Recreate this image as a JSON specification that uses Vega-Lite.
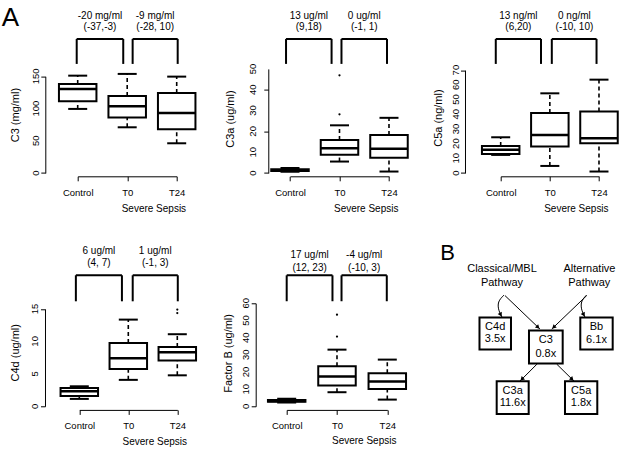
{
 "$schema": "https://vega.github.io/schema/vega-lite/v6.json",
 "background": "white",
 "padding": {"left": 1.7, "top": 4.6, "right": 0, "bottom": 0},
 "columns": 3,
 "align": "all",
 "bounds": "flush",
 "spacing": {"row": 130.7, "column": 0},
 "datasets": {
  "c3box": [
   {"pos": 1, "lower": 99.4, "q1": 111.2, "median": 130.4, "q3": 138.2, "upper": 151},
   {"pos": 2, "lower": 70.9, "q1": 86, "median": 103.5, "q3": 119.6, "upper": 153.7},
   {"pos": 3, "lower": 46.1, "q1": 67.8, "median": 93.2, "q3": 124.2, "upper": 149.5}
  ],
  "c3br": [{"x1": 0.98, "x2": 1.92, "lo": 169.2, "hi": 208}, {"x1": 2.11, "x2": 3.02, "lo": 169.2, "hi": 208}],
  "c3txt": [
   {"x": 1.45, "y": 244.1, "t": "-20 mg/ml"}, {"x": 1.45, "y": 226, "t": "(-37,-3)"},
   {"x": 2.565, "y": 244.1, "t": "-9 mg/ml"}, {"x": 2.565, "y": 226, "t": "(-28, 10)"}
  ],
  "c3ticks": [{"v": 0}, {"v": 50}, {"v": 100}, {"v": 150}],
  "alab": [{"x": -0.535, "y": 260.3, "t": "A"}],
  "c3abox": [
   {"pos": 1, "lower": 0.6, "q1": 0.9, "median": 1.3, "q3": 1.8, "upper": 2.4},
   {"pos": 2, "lower": 5.5, "q1": 8.8, "median": 11.9, "q3": 15.9, "upper": 22.9},
   {"pos": 3, "lower": 0.7, "q1": 7.3, "median": 11.6, "q3": 18.3, "upper": 26.5}
  ],
  "c3aout": [{"pos": 2, "v": 28.2}, {"pos": 2, "v": 46.9}],
  "c3abr": [{"x1": 0.92, "x2": 1.84, "lo": 52.4, "hi": 64.4}, {"x1": 2.04, "x2": 2.96, "lo": 52.4, "hi": 64.4}],
  "c3atxt": [
   {"x": 1.38, "y": 75.6, "t": "13 ug/ml"}, {"x": 1.38, "y": 70, "t": "(9,18)"},
   {"x": 2.5, "y": 75.6, "t": "0 ug/ml"}, {"x": 2.5, "y": 70, "t": "(-1, 1)"}
  ],
  "c3aticks": [{"v": 0}, {"v": 10}, {"v": 20}, {"v": 30}, {"v": 40}, {"v": 50}],
  "c5abox": [
   {"pos": 1, "lower": 12.3, "q1": 13, "median": 15.9, "q3": 18.4, "upper": 24.3},
   {"pos": 2, "lower": 4.8, "q1": 18, "median": 25.9, "q3": 40.9, "upper": 54.2},
   {"pos": 3, "lower": 1, "q1": 20.2, "median": 23.6, "q3": 41.8, "upper": 63.5}
  ],
  "c5abr": [{"x1": 0.9, "x2": 1.82, "lo": 74.2, "hi": 91.2}, {"x1": 2.04, "x2": 2.95, "lo": 74.2, "hi": 91.2}],
  "c5atxt": [
   {"x": 1.36, "y": 107.1, "t": "13 ng/ml"}, {"x": 1.36, "y": 99.6, "t": "(6,20)"},
   {"x": 2.5, "y": 107.1, "t": "0 ng/ml"}, {"x": 2.5, "y": 99.6, "t": "(-10, 10)"}
  ],
  "c5aticks": [{"v": 0}, {"v": 10}, {"v": 20}, {"v": 30}, {"v": 40}, {"v": 50}, {"v": 60}, {"v": 70}],
  "c4dbox": [
   {"pos": 1, "lower": 1.14, "q1": 1.6, "median": 2.31, "q3": 2.83, "upper": 3.08},
   {"pos": 2, "lower": 4.07, "q1": 5.76, "median": 7.39, "q3": 9.76, "upper": 13.35},
   {"pos": 3, "lower": 4.77, "q1": 7.04, "median": 8.32, "q3": 9.15, "upper": 11.1}
  ],
  "c4dout": [{"pos": 3, "v": 14.35}, {"pos": 3, "v": 14.9}],
  "c4dbr": [{"x1": 0.93, "x2": 1.87, "lo": 16.17, "hi": 20.18}, {"x1": 2.09, "x2": 3.01, "lo": 16.17, "hi": 20.18}],
  "c4dtxt": [
   {"x": 1.4, "y": 23.86, "t": "6 ug/ml"}, {"x": 1.4, "y": 22.01, "t": "(4, 7)"},
   {"x": 2.55, "y": 23.86, "t": "1 ug/ml"}, {"x": 2.55, "y": 22.01, "t": "(-1, 3)"}
  ],
  "c4dticks": [{"v": 0}, {"v": 5}, {"v": 10}, {"v": 15}],
  "fbbox": [
   {"pos": 1, "lower": 2.2, "q1": 2.7, "median": 3.1, "q3": 3.6, "upper": 4.4},
   {"pos": 2, "lower": 8.2, "q1": 12.1, "median": 17.3, "q3": 23.3, "upper": 33},
   {"pos": 3, "lower": 3.9, "q1": 10.1, "median": 14.4, "q3": 19.2, "upper": 27.2}
  ],
  "fbout": [{"pos": 2, "v": 40.6}, {"pos": 2, "v": 53.4}],
  "fbbr": [{"x1": 1, "x2": 1.91, "lo": 61.2, "hi": 76.3}, {"x1": 2.09, "x2": 2.99, "lo": 61.2, "hi": 76.3}],
  "fbtxt": [
   {"x": 1.455, "y": 87.96, "t": "17 ug/ml"}, {"x": 1.455, "y": 80.8, "t": "(12, 23)"},
   {"x": 2.54, "y": 87.96, "t": "-4 ug/ml"}, {"x": 2.54, "y": 80.8, "t": "(-10, 3)"}
  ],
  "fbticks": [{"v": 0}, {"v": 10}, {"v": 20}, {"v": 30}, {"v": 40}, {"v": 50}, {"v": 60}],
  "bboxes": [
   {"x1": 29.75, "x2": 45.5, "y1": 41, "y2": 57},
   {"x1": 54.5, "x2": 71.35, "y1": 47.5, "y2": 64},
   {"x1": 80.15, "x2": 96.35, "y1": 41, "y2": 57},
   {"x1": 38.35, "x2": 54.35, "y1": 72.85, "y2": 89.15},
   {"x1": 72.5, "x2": 88.65, "y1": 72.85, "y2": 89.15}
  ],
  "btxt": [
   {"x": 41, "y": 16.65, "t": "Classical/MBL"}, {"x": 41, "y": 23.85, "t": "Pathway"},
   {"x": 84.75, "y": 16.65, "t": "Alternative"}, {"x": 84.65, "y": 23.85, "t": "Pathway"},
   {"x": 37.6, "y": 45.85, "t": "C4d"}, {"x": 37.6, "y": 51.9, "t": "3.5x"},
   {"x": 62.9, "y": 52, "t": "C3"}, {"x": 62.9, "y": 59.15, "t": "0.8x"},
   {"x": 88.25, "y": 45.85, "t": "Bb"}, {"x": 88.25, "y": 52.3, "t": "6.1x"},
   {"x": 46.35, "y": 77.5, "t": "C3a"}, {"x": 46.35, "y": 83.85, "t": "11.6x"},
   {"x": 80.6, "y": 77.5, "t": "C5a"}, {"x": 80.6, "y": 83.85, "t": "1.8x"}
  ],
  "blab": [{"x": 13.75, "y": 8.5, "t": "B"}],
  "arrows": [
   {"kind": "s", "x1": 42.5, "y1": 30, "x2": 60, "y2": 46.75},
   {"kind": "s", "x1": 83.35, "y1": 30, "x2": 65.85, "y2": 46.75},
   {"kind": "s", "x1": 58.5, "y1": 64.25, "x2": 50, "y2": 72.75},
   {"kind": "s", "x1": 68.35, "y1": 64.25, "x2": 77, "y2": 72.75},
   {"kind": "c", "x1": 39.25, "y1": 37.5, "x2": 41, "y2": 40.75},
   {"kind": "c", "x1": 80.75, "y1": 37.5, "x2": 82.5, "y2": 40.75}
  ],
  "curves": [
   {"id": "l", "o": 0, "x": 42, "y": 29.75}, {"id": "l", "o": 1, "x": 38.75, "y": 33},
   {"id": "l", "o": 2, "x": 39.25, "y": 37.5}, {"id": "l", "o": 3, "x": 41, "y": 40.75},
   {"id": "r", "o": 0, "x": 83.25, "y": 29.75}, {"id": "r", "o": 1, "x": 80.25, "y": 33},
   {"id": "r", "o": 2, "x": 80.75, "y": 37.5}, {"id": "r", "o": 3, "x": 82.5, "y": 40.75}
  ]
 },
 "concat": [
  {
   "width": 212, "height": 104,
   "layer": [
    {"data": {"name": "c3box"}, "mark": {"type": "rule", "color": "black", "strokeWidth": 1.6, "strokeDash": [4, 3]},
     "encoding": {
      "x": {"field": "pos", "type": "quantitative", "scale": {"domain": [1, 3], "range": [0, 99], "nice": false, "zero": false, "padding": 0},
            "axis": {"values": [1, 2, 3], "labelExpr": "datum.value == 1 ? 'Control' : datum.value == 2 ? 'T0' : 'T24'", "offset": 3.7, "labelPadding": 6.8, "title": "Severe Sepsis", "titleX": 75.7, "titleY": 35}},
      "y": {"field": "lower", "type": "quantitative", "scale": {"domain": [0, 150], "range": [104.4, 7.7], "nice": false, "zero": false, "padding": 0},
            "axis": {"values": [0, 50, 100, 150], "offset": 32.4, "labels": false, "title": "C3 (mg/ml)", "titleX": -30.2, "titleY": 46}},
      "y2": {"field": "q1"}}},
    {"data": {"name": "c3box"}, "mark": {"type": "rule", "color": "black", "strokeWidth": 1.6, "strokeDash": [4, 3]},
     "encoding": {"x": {"field": "pos", "type": "quantitative"}, "y": {"field": "q3", "type": "quantitative"}, "y2": {"field": "upper"}}},
    {"data": {"name": "c3box"}, "mark": {"type": "tick", "orient": "horizontal", "size": 19, "thickness": 2, "color": "black", "opacity": 1},
     "encoding": {"x": {"field": "pos", "type": "quantitative"}, "y": {"field": "lower", "type": "quantitative"}}},
    {"data": {"name": "c3box"}, "mark": {"type": "tick", "orient": "horizontal", "size": 19, "thickness": 2, "color": "black", "opacity": 1},
     "encoding": {"x": {"field": "pos", "type": "quantitative"}, "y": {"field": "upper", "type": "quantitative"}}},
    {"data": {"name": "c3box"}, "mark": {"type": "bar", "orient": "vertical", "size": 37.5, "width": 37.5, "fill": "white", "stroke": "black", "strokeWidth": 2, "opacity": 1},
     "encoding": {"x": {"field": "pos", "type": "quantitative"}, "y": {"field": "q1", "type": "quantitative"}, "y2": {"field": "q3"}}},
    {"data": {"name": "c3box"}, "mark": {"type": "tick", "orient": "horizontal", "size": 37.5, "thickness": 2.5, "color": "black", "opacity": 1},
     "encoding": {"x": {"field": "pos", "type": "quantitative"}, "y": {"field": "median", "type": "quantitative"}}},
    {"data": {"name": "c3br"}, "mark": {"type": "rule", "color": "black", "strokeWidth": 2},
     "encoding": {"x": {"field": "x1", "type": "quantitative"}, "x2": {"field": "x2"}, "y": {"field": "hi", "type": "quantitative"}}},
    {"data": {"name": "c3br"}, "mark": {"type": "rule", "color": "black", "strokeWidth": 2},
     "encoding": {"x": {"field": "x1", "type": "quantitative"}, "y": {"field": "lo", "type": "quantitative"}, "y2": {"field": "hi"}}},
    {"data": {"name": "c3br"}, "mark": {"type": "rule", "color": "black", "strokeWidth": 2},
     "encoding": {"x": {"field": "x2", "type": "quantitative"}, "y": {"field": "lo", "type": "quantitative"}, "y2": {"field": "hi"}}},
    {"data": {"name": "c3txt"}, "mark": {"type": "text", "fontSize": 10, "color": "black"},
     "encoding": {"x": {"field": "x", "type": "quantitative"}, "y": {"field": "y", "type": "quantitative"}, "text": {"field": "t"}}},
    {"data": {"name": "c3ticks"}, "mark": {"type": "text", "fontSize": 9.5, "angle": 270, "align": "center", "baseline": "middle", "color": "black"},
     "encoding": {"x": {"datum": 0.1535, "type": "quantitative"}, "y": {"field": "v", "type": "quantitative"}, "text": {"field": "v", "type": "quantitative"}}},
    {"data": {"name": "alab"}, "mark": {"type": "text", "fontSize": 26, "align": "left", "baseline": "top", "color": "black"},
     "encoding": {"x": {"field": "x", "type": "quantitative"}, "y": {"field": "y", "type": "quantitative"}, "text": {"field": "t"}}}
   ]
  },
  {
   "width": 212, "height": 104,
   "layer": [
    {"data": {"name": "c3abox"}, "mark": {"type": "rule", "color": "black", "strokeWidth": 1.6, "strokeDash": [4, 3]},
     "encoding": {
      "x": {"field": "pos", "type": "quantitative", "scale": {"domain": [1, 3], "range": [0.3, 99.3], "nice": false, "zero": false, "padding": 0},
            "axis": {"values": [1, 2, 3], "labelExpr": "datum.value == 1 ? 'Control' : datum.value == 2 ? 'T0' : 'T24'", "offset": 3.7, "labelPadding": 6.8, "title": "Severe Sepsis", "titleX": 76, "titleY": 35}},
      "y": {"field": "lower", "type": "quantitative", "scale": {"domain": [0, 50], "range": [104.4, 0.3], "nice": false, "zero": false, "padding": 0},
            "axis": {"values": [0, 10, 20, 30, 40, 50], "offset": 21.4, "labels": false, "title": "C3a (ug/ml)", "titleX": -37.5, "titleY": 50}},
      "y2": {"field": "q1"}}},
    {"data": {"name": "c3abox"}, "mark": {"type": "rule", "color": "black", "strokeWidth": 1.6, "strokeDash": [4, 3]},
     "encoding": {"x": {"field": "pos", "type": "quantitative"}, "y": {"field": "q3", "type": "quantitative"}, "y2": {"field": "upper"}}},
    {"data": {"name": "c3abox"}, "mark": {"type": "tick", "orient": "horizontal", "size": 19, "thickness": 2, "color": "black", "opacity": 1},
     "encoding": {"x": {"field": "pos", "type": "quantitative"}, "y": {"field": "lower", "type": "quantitative"}}},
    {"data": {"name": "c3abox"}, "mark": {"type": "tick", "orient": "horizontal", "size": 19, "thickness": 2, "color": "black", "opacity": 1},
     "encoding": {"x": {"field": "pos", "type": "quantitative"}, "y": {"field": "upper", "type": "quantitative"}}},
    {"data": {"name": "c3abox"}, "mark": {"type": "bar", "orient": "vertical", "size": 37.5, "width": 37.5, "fill": "white", "stroke": "black", "strokeWidth": 2, "opacity": 1},
     "encoding": {"x": {"field": "pos", "type": "quantitative"}, "y": {"field": "q1", "type": "quantitative"}, "y2": {"field": "q3"}}},
    {"data": {"name": "c3abox"}, "mark": {"type": "tick", "orient": "horizontal", "size": 37.5, "thickness": 2.5, "color": "black", "opacity": 1},
     "encoding": {"x": {"field": "pos", "type": "quantitative"}, "y": {"field": "median", "type": "quantitative"}}},
    {"data": {"name": "c3aout"}, "mark": {"type": "point", "filled": true, "size": 5, "color": "black", "opacity": 1},
     "encoding": {"x": {"field": "pos", "type": "quantitative"}, "y": {"field": "v", "type": "quantitative"}}},
    {"data": {"name": "c3abr"}, "mark": {"type": "rule", "color": "black", "strokeWidth": 2},
     "encoding": {"x": {"field": "x1", "type": "quantitative"}, "x2": {"field": "x2"}, "y": {"field": "hi", "type": "quantitative"}}},
    {"data": {"name": "c3abr"}, "mark": {"type": "rule", "color": "black", "strokeWidth": 2},
     "encoding": {"x": {"field": "x1", "type": "quantitative"}, "y": {"field": "lo", "type": "quantitative"}, "y2": {"field": "hi"}}},
    {"data": {"name": "c3abr"}, "mark": {"type": "rule", "color": "black", "strokeWidth": 2},
     "encoding": {"x": {"field": "x2", "type": "quantitative"}, "y": {"field": "lo", "type": "quantitative"}, "y2": {"field": "hi"}}},
    {"data": {"name": "c3atxt"}, "mark": {"type": "text", "fontSize": 10, "color": "black"},
     "encoding": {"x": {"field": "x", "type": "quantitative"}, "y": {"field": "y", "type": "quantitative"}, "text": {"field": "t"}}},
    {"data": {"name": "c3aticks"}, "mark": {"type": "text", "fontSize": 9.5, "angle": 270, "align": "center", "baseline": "middle", "color": "black"},
     "encoding": {"x": {"datum": 0.2626, "type": "quantitative"}, "y": {"field": "v", "type": "quantitative"}, "text": {"field": "v", "type": "quantitative"}}}
   ]
  },
  {
   "width": 212, "height": 104,
   "layer": [
    {"data": {"name": "c5abox"}, "mark": {"type": "rule", "color": "black", "strokeWidth": 1.6, "strokeDash": [4, 3]},
     "encoding": {
      "x": {"field": "pos", "type": "quantitative", "scale": {"domain": [1, 3], "range": [-1, 97.3], "nice": false, "zero": false, "padding": 0},
            "axis": {"values": [1, 2, 3], "labelExpr": "datum.value == 1 ? 'Control' : datum.value == 2 ? 'T0' : 'T24'", "offset": 3.7, "labelPadding": 6.8, "title": "Severe Sepsis", "titleX": 74.2, "titleY": 35}},
      "y": {"field": "lower", "type": "quantitative", "scale": {"domain": [0, 70], "range": [104.4, 1.5], "nice": false, "zero": false, "padding": 0},
            "axis": {"values": [0, 10, 20, 30, 40, 50, 60, 70], "offset": 36.7, "labels": false, "title": "C5a (ng/ml)", "titleX": -26.2, "titleY": 49}},
      "y2": {"field": "q1"}}},
    {"data": {"name": "c5abox"}, "mark": {"type": "rule", "color": "black", "strokeWidth": 1.6, "strokeDash": [4, 3]},
     "encoding": {"x": {"field": "pos", "type": "quantitative"}, "y": {"field": "q3", "type": "quantitative"}, "y2": {"field": "upper"}}},
    {"data": {"name": "c5abox"}, "mark": {"type": "tick", "orient": "horizontal", "size": 19, "thickness": 2, "color": "black", "opacity": 1},
     "encoding": {"x": {"field": "pos", "type": "quantitative"}, "y": {"field": "lower", "type": "quantitative"}}},
    {"data": {"name": "c5abox"}, "mark": {"type": "tick", "orient": "horizontal", "size": 19, "thickness": 2, "color": "black", "opacity": 1},
     "encoding": {"x": {"field": "pos", "type": "quantitative"}, "y": {"field": "upper", "type": "quantitative"}}},
    {"data": {"name": "c5abox"}, "mark": {"type": "bar", "orient": "vertical", "size": 37.5, "width": 37.5, "fill": "white", "stroke": "black", "strokeWidth": 2, "opacity": 1},
     "encoding": {"x": {"field": "pos", "type": "quantitative"}, "y": {"field": "q1", "type": "quantitative"}, "y2": {"field": "q3"}}},
    {"data": {"name": "c5abox"}, "mark": {"type": "tick", "orient": "horizontal", "size": 37.5, "thickness": 2.5, "color": "black", "opacity": 1},
     "encoding": {"x": {"field": "pos", "type": "quantitative"}, "y": {"field": "median", "type": "quantitative"}}},
    {"data": {"name": "c5abr"}, "mark": {"type": "rule", "color": "black", "strokeWidth": 2},
     "encoding": {"x": {"field": "x1", "type": "quantitative"}, "x2": {"field": "x2"}, "y": {"field": "hi", "type": "quantitative"}}},
    {"data": {"name": "c5abr"}, "mark": {"type": "rule", "color": "black", "strokeWidth": 2},
     "encoding": {"x": {"field": "x1", "type": "quantitative"}, "y": {"field": "lo", "type": "quantitative"}, "y2": {"field": "hi"}}},
    {"data": {"name": "c5abr"}, "mark": {"type": "rule", "color": "black", "strokeWidth": 2},
     "encoding": {"x": {"field": "x2", "type": "quantitative"}, "y": {"field": "lo", "type": "quantitative"}, "y2": {"field": "hi"}}},
    {"data": {"name": "c5atxt"}, "mark": {"type": "text", "fontSize": 10, "color": "black"},
     "encoding": {"x": {"field": "x", "type": "quantitative"}, "y": {"field": "y", "type": "quantitative"}, "text": {"field": "t"}}},
    {"data": {"name": "c5aticks"}, "mark": {"type": "text", "fontSize": 9.5, "angle": 270, "align": "center", "baseline": "middle", "color": "black"},
     "encoding": {"x": {"datum": 0.0844, "type": "quantitative"}, "y": {"field": "v", "type": "quantitative"}, "text": {"field": "v", "type": "quantitative"}}}
   ]
  },
  {
   "width": 212, "height": 104,
   "layer": [
    {"data": {"name": "c4dbox"}, "mark": {"type": "rule", "color": "black", "strokeWidth": 1.6, "strokeDash": [4, 3]},
     "encoding": {
      "x": {"field": "pos", "type": "quantitative", "scale": {"domain": [1, 3], "range": [1.6, 99.6], "nice": false, "zero": false, "padding": 0},
            "axis": {"values": [1, 2, 3], "labelExpr": "datum.value == 1 ? 'Control' : datum.value == 2 ? 'T0' : 'T24'", "offset": 2.6, "labelPadding": 5.8, "title": "Severe Sepsis", "titleX": 76.6, "titleY": 35}},
      "y": {"field": "lower", "type": "quantitative", "scale": {"domain": [0, 15], "range": [103, 5.6], "nice": false, "zero": false, "padding": 0},
            "axis": {"values": [0, 5, 10, 15], "offset": 32.7, "labels": false, "title": "C4d (ug/ml)", "titleX": -29.2, "titleY": 49}},
      "y2": {"field": "q1"}}},
    {"data": {"name": "c4dbox"}, "mark": {"type": "rule", "color": "black", "strokeWidth": 1.6, "strokeDash": [4, 3]},
     "encoding": {"x": {"field": "pos", "type": "quantitative"}, "y": {"field": "q3", "type": "quantitative"}, "y2": {"field": "upper"}}},
    {"data": {"name": "c4dbox"}, "mark": {"type": "tick", "orient": "horizontal", "size": 19, "thickness": 2, "color": "black", "opacity": 1},
     "encoding": {"x": {"field": "pos", "type": "quantitative"}, "y": {"field": "lower", "type": "quantitative"}}},
    {"data": {"name": "c4dbox"}, "mark": {"type": "tick", "orient": "horizontal", "size": 19, "thickness": 2, "color": "black", "opacity": 1},
     "encoding": {"x": {"field": "pos", "type": "quantitative"}, "y": {"field": "upper", "type": "quantitative"}}},
    {"data": {"name": "c4dbox"}, "mark": {"type": "bar", "orient": "vertical", "size": 37.5, "width": 37.5, "fill": "white", "stroke": "black", "strokeWidth": 2, "opacity": 1},
     "encoding": {"x": {"field": "pos", "type": "quantitative"}, "y": {"field": "q1", "type": "quantitative"}, "y2": {"field": "q3"}}},
    {"data": {"name": "c4dbox"}, "mark": {"type": "tick", "orient": "horizontal", "size": 37.5, "thickness": 2.5, "color": "black", "opacity": 1},
     "encoding": {"x": {"field": "pos", "type": "quantitative"}, "y": {"field": "median", "type": "quantitative"}}},
    {"data": {"name": "c4dout"}, "mark": {"type": "point", "filled": true, "size": 5, "color": "black", "opacity": 1},
     "encoding": {"x": {"field": "pos", "type": "quantitative"}, "y": {"field": "v", "type": "quantitative"}}},
    {"data": {"name": "c4dbr"}, "mark": {"type": "rule", "color": "black", "strokeWidth": 2},
     "encoding": {"x": {"field": "x1", "type": "quantitative"}, "x2": {"field": "x2"}, "y": {"field": "hi", "type": "quantitative"}}},
    {"data": {"name": "c4dbr"}, "mark": {"type": "rule", "color": "black", "strokeWidth": 2},
     "encoding": {"x": {"field": "x1", "type": "quantitative"}, "y": {"field": "lo", "type": "quantitative"}, "y2": {"field": "hi"}}},
    {"data": {"name": "c4dbr"}, "mark": {"type": "rule", "color": "black", "strokeWidth": 2},
     "encoding": {"x": {"field": "x2", "type": "quantitative"}, "y": {"field": "lo", "type": "quantitative"}, "y2": {"field": "hi"}}},
    {"data": {"name": "c4dtxt"}, "mark": {"type": "text", "fontSize": 10, "color": "black"},
     "encoding": {"x": {"field": "x", "type": "quantitative"}, "y": {"field": "y", "type": "quantitative"}, "text": {"field": "t"}}},
    {"data": {"name": "c4dticks"}, "mark": {"type": "text", "fontSize": 9.5, "angle": 270, "align": "center", "baseline": "middle", "color": "black"},
     "encoding": {"x": {"datum": 0.102, "type": "quantitative"}, "y": {"field": "v", "type": "quantitative"}, "text": {"field": "v", "type": "quantitative"}}}
   ]
  },
  {
   "width": 212, "height": 104,
   "layer": [
    {"data": {"name": "fbbox"}, "mark": {"type": "rule", "color": "black", "strokeWidth": 1.6, "strokeDash": [4, 3]},
     "encoding": {
      "x": {"field": "pos", "type": "quantitative", "scale": {"domain": [1, 3], "range": [-3, 97.6], "nice": false, "zero": false, "padding": 0},
            "axis": {"values": [1, 2, 3], "labelExpr": "datum.value == 1 ? 'Control' : datum.value == 2 ? 'T0' : 'T24'", "offset": 2.6, "labelPadding": 5.8, "title": "Severe Sepsis", "titleX": 74, "titleY": 34}},
      "y": {"field": "lower", "type": "quantitative", "scale": {"domain": [0, 60], "range": [103, 0], "nice": false, "zero": false, "padding": 0},
            "axis": {"values": [0, 10, 20, 30, 40, 50, 60], "offset": 34, "labels": false, "title": "Factor B (ug/ml)", "titleX": -26.9, "titleY": 49.6}},
      "y2": {"field": "q1"}}},
    {"data": {"name": "fbbox"}, "mark": {"type": "rule", "color": "black", "strokeWidth": 1.6, "strokeDash": [4, 3]},
     "encoding": {"x": {"field": "pos", "type": "quantitative"}, "y": {"field": "q3", "type": "quantitative"}, "y2": {"field": "upper"}}},
    {"data": {"name": "fbbox"}, "mark": {"type": "tick", "orient": "horizontal", "size": 19, "thickness": 2, "color": "black", "opacity": 1},
     "encoding": {"x": {"field": "pos", "type": "quantitative"}, "y": {"field": "lower", "type": "quantitative"}}},
    {"data": {"name": "fbbox"}, "mark": {"type": "tick", "orient": "horizontal", "size": 19, "thickness": 2, "color": "black", "opacity": 1},
     "encoding": {"x": {"field": "pos", "type": "quantitative"}, "y": {"field": "upper", "type": "quantitative"}}},
    {"data": {"name": "fbbox"}, "mark": {"type": "bar", "orient": "vertical", "size": 37.5, "width": 37.5, "fill": "white", "stroke": "black", "strokeWidth": 2, "opacity": 1},
     "encoding": {"x": {"field": "pos", "type": "quantitative"}, "y": {"field": "q1", "type": "quantitative"}, "y2": {"field": "q3"}}},
    {"data": {"name": "fbbox"}, "mark": {"type": "tick", "orient": "horizontal", "size": 37.5, "thickness": 2.5, "color": "black", "opacity": 1},
     "encoding": {"x": {"field": "pos", "type": "quantitative"}, "y": {"field": "median", "type": "quantitative"}}},
    {"data": {"name": "fbout"}, "mark": {"type": "point", "filled": true, "size": 5, "color": "black", "opacity": 1},
     "encoding": {"x": {"field": "pos", "type": "quantitative"}, "y": {"field": "v", "type": "quantitative"}}},
    {"data": {"name": "fbbr"}, "mark": {"type": "rule", "color": "black", "strokeWidth": 2},
     "encoding": {"x": {"field": "x1", "type": "quantitative"}, "x2": {"field": "x2"}, "y": {"field": "hi", "type": "quantitative"}}},
    {"data": {"name": "fbbr"}, "mark": {"type": "rule", "color": "black", "strokeWidth": 2},
     "encoding": {"x": {"field": "x1", "type": "quantitative"}, "y": {"field": "lo", "type": "quantitative"}, "y2": {"field": "hi"}}},
    {"data": {"name": "fbbr"}, "mark": {"type": "rule", "color": "black", "strokeWidth": 2},
     "encoding": {"x": {"field": "x2", "type": "quantitative"}, "y": {"field": "lo", "type": "quantitative"}, "y2": {"field": "hi"}}},
    {"data": {"name": "fbtxt"}, "mark": {"type": "text", "fontSize": 10, "color": "black"},
     "encoding": {"x": {"field": "x", "type": "quantitative"}, "y": {"field": "y", "type": "quantitative"}, "text": {"field": "t"}}},
    {"data": {"name": "fbticks"}, "mark": {"type": "text", "fontSize": 9.5, "angle": 270, "align": "center", "baseline": "middle", "color": "black"},
     "encoding": {"x": {"datum": 0.185, "type": "quantitative"}, "y": {"field": "v", "type": "quantitative"}, "text": {"field": "v", "type": "quantitative"}}}
   ]
  },
  {
   "width": 212, "height": 104,
   "layer": [
    {"data": {"name": "bboxes"}, "mark": {"type": "rect", "fill": "white", "stroke": "black", "strokeWidth": 2, "opacity": 1},
     "encoding": {
      "x": {"field": "x1", "type": "quantitative", "scale": {"domain": [0, 100], "range": [-81.7, 118.3], "nice": false, "zero": false, "padding": 0}, "axis": null},
      "x2": {"field": "x2"},
      "y": {"field": "y1", "type": "quantitative", "scale": {"domain": [0, 95], "range": [-67.7, 122.3], "nice": false, "zero": false, "padding": 0}, "axis": null},
      "y2": {"field": "y2"}}},
    {"data": {"name": "arrows"}, "transform": [{"filter": "datum.kind == 's'"}],
     "mark": {"type": "rule", "color": "black", "strokeWidth": 1},
     "encoding": {"x": {"field": "x1", "type": "quantitative"}, "y": {"field": "y1", "type": "quantitative"}, "x2": {"field": "x2"}, "y2": {"field": "y2"}}},
    {"data": {"name": "curves"}, "mark": {"type": "line", "interpolate": "basis", "color": "black", "strokeWidth": 1},
     "encoding": {"x": {"field": "x", "type": "quantitative"}, "y": {"field": "y", "type": "quantitative"}, "detail": {"field": "id"}, "order": {"field": "o", "type": "quantitative"}}},
    {"data": {"name": "arrows"},
     "transform": [
      {"calculate": "datum.x2 - datum.x1", "as": "dx"},
      {"calculate": "datum.y2 - datum.y1", "as": "dy"},
      {"calculate": "sqrt(datum.dx * datum.dx + datum.dy * datum.dy)", "as": "len"},
      {"calculate": "atan2(datum.dx, -datum.dy) * 180 / PI", "as": "ang"},
      {"calculate": "datum.x2 - 1.35 * datum.dx / datum.len", "as": "hx"},
      {"calculate": "datum.y2 - 1.35 * datum.dy / datum.len", "as": "hy"}
     ],
     "mark": {"type": "point", "shape": "triangle-up", "filled": true, "size": 22, "color": "black", "opacity": 1},
     "encoding": {"x": {"field": "hx", "type": "quantitative"}, "y": {"field": "hy", "type": "quantitative"}, "angle": {"field": "ang", "type": "quantitative", "scale": null}}},
    {"data": {"name": "btxt"}, "mark": {"type": "text", "fontSize": 11, "color": "black"},
     "encoding": {"x": {"field": "x", "type": "quantitative"}, "y": {"field": "y", "type": "quantitative"}, "text": {"field": "t"}}},
    {"data": {"name": "blab"}, "mark": {"type": "text", "fontSize": 22, "color": "black"},
     "encoding": {"x": {"field": "x", "type": "quantitative"}, "y": {"field": "y", "type": "quantitative"}, "text": {"field": "t"}}}
   ]
  }
 ],
 "config": {
  "font": "Liberation Sans",
  "view": {"stroke": null},
  "axis": {"grid": false, "domainColor": "black", "tickColor": "black", "labelColor": "black", "titleColor": "black",
           "labelFontSize": 9.5, "titleFontSize": 11, "titleFontWeight": "normal", "tickSize": 4.5,
           "labelFlush": false, "labelOverlap": false, "labelBound": false, "titlePadding": 0},
  "axisX": {"titleFontSize": 10, "titleAlign": "center", "titleBaseline": "alphabetic", "titleAngle": 0},
  "axisY": {"titleAngle": 270, "titleAlign": "center", "titleBaseline": "middle"}
 }
}
